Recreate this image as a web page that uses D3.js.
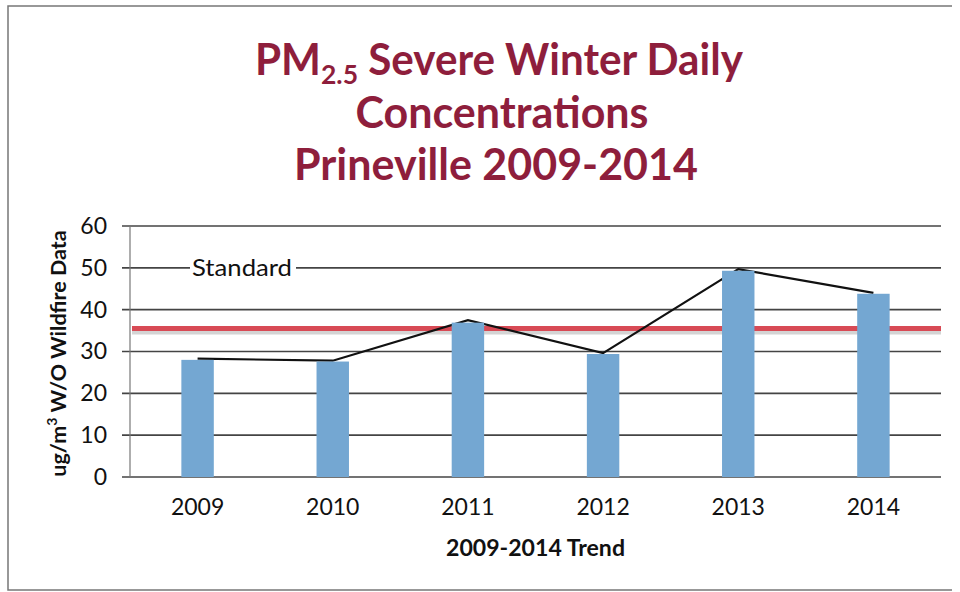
<!DOCTYPE html>
<html>
<head>
<meta charset="utf-8">
<script src="https://cdn.jsdelivr.net/npm/d3@7"></script>
<style>
  html, body { margin: 0; padding: 0; background: #fff; }
  svg { display: block; }
</style>
</head>
<body>
<svg id="chart" width="960" height="592"></svg>
<script>
const years = ["2009", "2010", "2011", "2012", "2013", "2014"];
const barValues = [28.0, 27.6, 36.9, 29.4, 49.3, 43.8];
const trendValues = [28.3, 27.8, 37.5, 29.6, 49.7, 44.0];
const standardValue = 35.5;
const yTicks = [0, 10, 20, 30, 40, 50, 60];
const titleLines = ["Severe Winter Daily", "Concentrations", "Prineville 2009-2014"];

const svg = d3.select("#chart");
const W = 960, H = 592;
const m = { left: 130, right: 19, top: 226, bottom: 115 };
const plotW = W - m.left - m.right;
const plotH = H - m.top - m.bottom;
const font = "Lato, 'Open Sans', sans-serif";

// frame
svg.append("rect").attr("x", 0).attr("y", 0).attr("width", W).attr("height", H).attr("fill", "#fff");
svg.append("path")
  .attr("d", `M952,6 L8,6 L8,590 L952,590`)
  .attr("fill", "none").attr("stroke", "#777").attr("stroke-width", 1.5);

const x = d3.scaleBand().domain(years).range([m.left, m.left + plotW]).paddingInner(0.76).paddingOuter(0.38);
const y = d3.scaleLinear().domain([0, 60]).range([m.top + plotH, m.top]);

// gridlines
const g = svg.append("g");
g.selectAll("line.grid").data(yTicks).join("line")
  .attr("class", "grid")
  .attr("x1", m.left - 8).attr("x2", m.left + plotW)
  .attr("y1", d => y(d)).attr("y2", d => y(d))
  .attr("stroke", "#444").attr("stroke-width", 1.6);

// y axis line
g.append("line")
  .attr("x1", m.left).attr("x2", m.left)
  .attr("y1", y(60)).attr("y2", y(0))
  .attr("stroke", "#777").attr("stroke-width", 1.2);

// y tick labels via axis
const yAxis = d3.axisLeft(y).tickValues(yTicks).tickSize(0).tickPadding(0);
const ya = svg.append("g").attr("transform", `translate(${m.left - 23},0)`).call(yAxis);
ya.select(".domain").remove();
ya.selectAll("text").attr("font-family", font).attr("font-size", 23).attr("fill", "#111");

// standard line (with shadow)
svg.append("line")
  .attr("x1", m.left + 2).attr("x2", m.left + plotW)
  .attr("y1", y(standardValue) + 4).attr("y2", y(standardValue) + 4)
  .attr("stroke", "#d4d4d4").attr("stroke-width", 4);
svg.append("line")
  .attr("x1", m.left + 2).attr("x2", m.left + plotW)
  .attr("y1", y(standardValue)).attr("y2", y(standardValue))
  .attr("stroke", "#d84a55").attr("stroke-width", 5);

// trend line (behind bars)
const line = d3.line().x((d, i) => x(years[i]) + x.bandwidth() / 2).y(d => y(d));
svg.append("path").datum(trendValues)
  .attr("d", line).attr("fill", "none").attr("stroke", "#111").attr("stroke-width", 2.2);

// bars
svg.selectAll("rect.bar").data(barValues).join("rect")
  .attr("class", "bar")
  .attr("x", (d, i) => x(years[i]))
  .attr("width", x.bandwidth())
  .attr("y", d => y(d))
  .attr("height", d => y(0) - y(d))
  .attr("fill", "#74a7d2");

// Standard label
const stdX = 192, stdY = y(50);
svg.append("rect").attr("x", stdX - 2).attr("y", stdY - 11).attr("width", 106).attr("height", 22).attr("fill", "#fff");
svg.append("text").attr("x", stdX).attr("y", stdY).attr("dy", "0.36em")
  .attr("font-family", font).attr("font-size", 24).attr("fill", "#111")
  .attr("textLength", 100).attr("lengthAdjust", "spacingAndGlyphs").text("Standard");

// x axis labels
const xAxis = d3.axisBottom(x).tickSize(0).tickPadding(0);
const xa = svg.append("g").attr("transform", `translate(0,${y(0) + 22})`).call(xAxis);
xa.select(".domain").remove();
xa.selectAll("text").attr("font-family", font).attr("font-size", 23).attr("fill", "#111");

// x axis title
svg.append("text").attr("x", m.left + plotW / 2).attr("y", 556).attr("text-anchor", "middle")
  .attr("font-family", font).attr("font-weight", "bold").attr("font-size", 22).attr("fill", "#111")
  .attr("textLength", 179).attr("lengthAdjust", "spacingAndGlyphs")
  .text("2009-2014 Trend");

// y axis title
const yt = svg.append("text").attr("transform", `translate(66,${m.top + plotH / 2 + 2}) rotate(-90)`)
  .attr("text-anchor", "middle")
  .attr("font-family", font).attr("font-weight", "bold").attr("font-size", 21.5).attr("fill", "#111");
yt.append("tspan").text("ug/m");
yt.append("tspan").attr("font-size", 14).attr("dy", -9).text("3");
yt.append("tspan").attr("dy", 9).text(" W/O Wildfire Data");

// title
const tColor = "#8e1e3c";
const tf = 43;
const t1 = svg.append("text").attr("x", 499).attr("y", 75).attr("text-anchor", "middle")
  .attr("font-family", font).attr("font-weight", "bold").attr("font-size", tf).attr("fill", tColor)
  .attr("textLength", 488).attr("lengthAdjust", "spacingAndGlyphs");
t1.append("tspan").text("PM");
t1.append("tspan").attr("font-size", 27).attr("dy", 9).text("2.5");
t1.append("tspan").attr("dy", -9).text(" " + titleLines[0]);
svg.append("text").attr("x", 502).attr("y", 128).attr("text-anchor", "middle")
  .attr("font-family", font).attr("font-weight", "bold").attr("font-size", tf).attr("fill", tColor)
  .text(titleLines[1]);
svg.append("text").attr("x", 496).attr("y", 180).attr("text-anchor", "middle")
  .attr("font-family", font).attr("font-weight", "bold").attr("font-size", tf).attr("fill", tColor)
  .text(titleLines[2]);
</script>
</body>
</html>
